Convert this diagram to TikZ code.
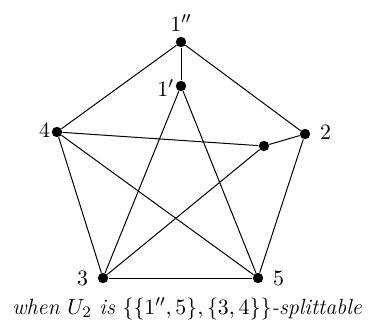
\documentclass[tikz,border=0pt]{standalone}
\usepackage{amsmath,amssymb}
\usetikzlibrary{positioning}

\begin{document}
\begin{tikzpicture}[
  x=0.5pt, y=-0.5pt,
  vtx/.style={circle, fill=black, inner sep=0pt, minimum size=5.2pt},
  lbl/.style={font=\fontsize{11}{13}\selectfont, inner sep=1.5pt},
  edge/.style={line width=0.5pt}
]
  \useasboundingbox (0,0) rectangle (370,327);
  \node[vtx] (a2) at (181, 42) {};
  \node[vtx] (a1) at (181, 86) {};
  \node[vtx] (v4) at (57, 132) {};
  \node[vtx] (v2) at (305, 134) {};
  \node[vtx] (w)  at (264, 146) {};
  \node[vtx] (v3) at (103, 278) {};
  \node[vtx] (v5) at (258, 278) {};
  \node[lbl, above=1pt of a2] {$1''$};
  \node[lbl, left=-1pt of a1, yshift=-1pt] {$1'$};
  \node[lbl, left=-1pt of v4, yshift=1pt] {$4$};
  \node[lbl, right=3pt of v2, yshift=1pt] {$2$};
  \node[lbl, left=3pt of v3] {$3$};
  \node[lbl, right=3pt of v5] {$5$};
  \draw[edge] (a2) -- (v4);
  \draw[edge] (a2) -- (v2);
  \draw[edge] (a2) -- (a1);
  \draw[edge] (a1) -- (v3);
  \draw[edge] (a1) -- (v5);
  \draw[edge] (v4) -- (w);
  \draw[edge] (w) -- (v2);
  \draw[edge] (w) -- (v3);
  \draw[edge] (v2) -- (v5);
  \draw[edge] (v4) -- (v3);
  \draw[edge] (v4) -- (v5);
  \draw[edge] (v3) -- (v5);
  \node[font=\fontsize{11}{13}\selectfont] (cap) at (187, 309) {\itshape when $U_2$ is $\{\{1'',5\},\{3,4\}\}$-splittable};
\end{tikzpicture}
\end{document}
